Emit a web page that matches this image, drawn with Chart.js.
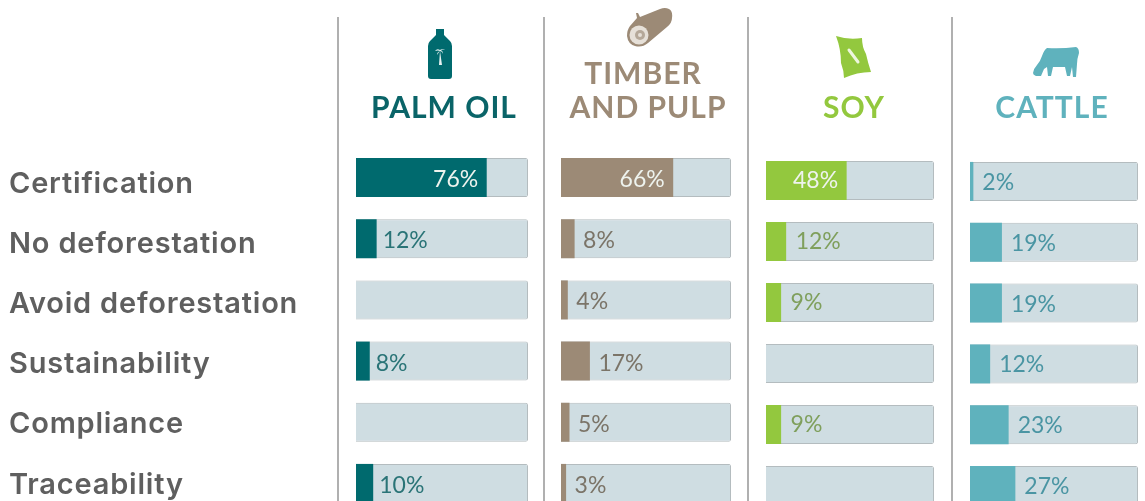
<!DOCTYPE html>
<html><head><meta charset="utf-8">
<script src="https://cdn.jsdelivr.net/npm/chart.js@4"></script>
<style>
html,body{margin:0;padding:0;background:#fff;overflow:hidden;width:1145px;height:501px}
#stage{position:absolute;left:0;top:0;width:1145px;height:501px;overflow:hidden;filter:blur(0.35px)}
.rule{position:absolute;top:17px;height:484px;width:2px;background:#b0b0b0}
.head{position:absolute;font:700 30px Lato,sans-serif;letter-spacing:1px;line-height:34px;text-align:center;white-space:nowrap;transform:translateX(-50%)}
.wrap{position:absolute}
svg{position:absolute}
canvas{display:block}
</style></head><body>
<div id="stage">
<div class="rule" style="left:337px"></div><div class="rule" style="left:543px"></div>
<div class="rule" style="left:747px"></div><div class="rule" style="left:951px"></div>

<svg style="left:428px;top:29px" width="24" height="50" viewBox="0 0 24 50"><path d="M8 0h8v6l6 6q2 2 2 5v30q0 3-3 3H3q-3 0-3-3V17q0-3 2-5l6-6z" fill="#006a6e"/><path d="M11 36l1-14 2 14zM12 21q-3-2-5 1 3-1 5 0q-3 1-3 4 2-3 3-4 2 0 3 3 0-3-2-4 2-1 4 0-2-2-5 0z" fill="#e8f2f2"/></svg>
<svg style="left:627px;top:8px" width="46" height="40" viewBox="0 0 46 40"><path d="M10 10l-1-5 2 0 2 4L33 1q5-2 9 0t3 9q0 5-5 9L21 35q-6 5-13 3T0 28q0-6 3-10z" fill="#9c8a76"/><circle cx="12" cy="27" r="9.5" fill="#e6e0d8"/><circle cx="13" cy="27" r="5" fill="#b5a899"/><circle cx="13" cy="27" r="2" fill="#e6e0d8"/></svg>
<svg style="left:835px;top:35px" width="38" height="44" viewBox="0 0 38 44"><path d="M1 1Q13 5 27 3Q27 12 31 19Q33 28 36 37Q22 37 9 43Q9 36 6 28Q6 14 1 1z" fill="#93c83e"/><path d="M14 15l9 12" stroke="#eef6de" stroke-width="3" stroke-linecap="round"/></svg>
<svg style="left:1033px;top:46px" width="46" height="32" viewBox="0 0 46 32"><path d="M14 2q14 1 29-1 3 1 3 6-2 6-2 11l-1 13h-3l-1-10-2 9h-3l-2-9H20l-2 9h-3l-1-9-3 2-3 7H3q-3-1-3-3 1-5 4-8 3-3 5-9 2-6 5-8z" fill="#5fb2bd"/></svg>

<div class="head" style="left:444px;top:89px;color:#0a6468">PALM OIL</div>
<div class="head" style="left:643px;top:55px;color:#9c8a76">TIMBER</div>
<div class="head" style="left:648px;top:89px;color:#9c8a76">AND PULP</div>
<div class="head" style="left:854px;top:89px;color:#93c83e">SOY</div>
<div class="head" style="left:1052px;top:89px;color:#5fb2bd">CATTLE</div>

<div class="wrap" style="left:9px;top:154px"><canvas id="labels"></canvas></div>
<div class="wrap" style="left:356px;top:147px"><canvas id="palm"></canvas></div>
<div class="wrap" style="left:561px;top:147px"><canvas id="timber"></canvas></div>
<div class="wrap" style="left:766px;top:150px"><canvas id="soy"></canvas></div>
<div class="wrap" style="left:970px;top:151px"><canvas id="cattle"></canvas></div>
</div>
<script>
const categories = ["Certification","No deforestation","Avoid deforestation","Sustainability","Compliance","Traceability"];
const palmOil   = [76,12,null,8,null,10];
const timber    = [66,8,4,17,5,3];
const soy       = [48,12,9,null,9,null];
const cattle    = [2,19,19,12,23,27];
const track     = [100,100,100,100,100,100];

const valueLabels = {
  id:'valueLabels',
  afterDatasetsDraw(chart,args,opts){
    const meta = chart.getDatasetMeta(0), data = chart.data.datasets[0].data, c = chart.ctx;
    c.save();
    c.font = '23px Lato, sans-serif';
    c.textBaseline = 'middle';
    meta.data.forEach((bar,i)=>{
      const v = data[i];
      if (v === null) return;
      const big = v > 40;
      c.textAlign = big ? 'right' : 'left';
      c.fillStyle = big ? '#eef3ee' : opts.colour;
      c.fillText(v+'%', bar.x + (big ? -8.5 : opts.gap), bar.y + opts.dy);
    });
    c.restore();
  }
};

function panel(id, width, height, values, colour, labelColour, gap, dy){
  const el = document.getElementById(id);
  el.style.width = width+'px'; el.style.height = height+'px';
  el.width = width; el.height = height;
  const bp = 39/(height/6);
  new Chart(el,{
    type:'bar',
    data:{labels:categories,datasets:[
      {data:values,backgroundColor:colour,grouped:false,barPercentage:bp,categoryPercentage:1,borderWidth:0},
      {data:track,backgroundColor:'#cfdde2',borderColor:'#b4bcbf',borderWidth:1,borderRadius:2,grouped:false,barPercentage:bp,categoryPercentage:1}
    ]},
    plugins:[valueLabels],
    options:{
      indexAxis:'y',responsive:false,animation:false,
      layout:{padding:0},
      plugins:{legend:{display:false},tooltip:{enabled:false},title:{display:false},valueLabels:{colour:labelColour,gap:gap,dy:dy}},
      scales:{
        x:{display:false,min:0,max:100},
        y:{display:false}
      }
    }
  });
}
panel('palm',172,367,palmOil,'#006a6e','#2a7477',6,2);
panel('timber',170,367,timber,'#9c8a76','#7b7468',8.5,2);
panel('soy',168,366,soy,'#93c83e','#7f9f5c',9.5,0.5);
panel('cattle',168,365,cattle,'#5fb2bd','#4a95a3',9,1);

const lab = document.getElementById('labels');
lab.style.width='327px'; lab.style.height='361px'; lab.width=327; lab.height=361;
new Chart(lab,{
  type:'bar',
  data:{labels:categories,datasets:[{data:[]}]},
  plugins:[{id:'spacing',beforeDraw(chart){chart.ctx.letterSpacing='0.8px';}}],
  options:{
    indexAxis:'y',responsive:false,animation:false,layout:{padding:0},
    plugins:{legend:{display:false},tooltip:{enabled:false}},
    scales:{
      x:{display:false},
      y:{
        afterFit(s){s.width=320;s.paddingTop=0;s.paddingBottom=0;},
        grid:{display:false},border:{display:false},
        ticks:{crossAlign:'far',align:'center',autoSkip:false,padding:0,color:'#5f5f5f',font:{family:'Inter, sans-serif',weight:'600',size:29}}
      }
    }
  }
});
</script>
</body></html>
